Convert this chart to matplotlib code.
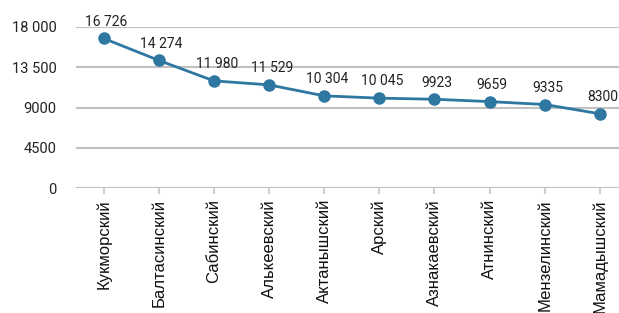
import matplotlib
matplotlib.use("Agg")
import matplotlib.pyplot as plt

districts = ["Кукморский", "Балтасинский", "Сабинский", "Алькеевский", "Актанышский",
             "Арский", "Азнакаевский", "Атнинский", "Мензелинский", "Мамадышский"]
values = [16726, 14274, 11980, 11529, 10304, 10045, 9923, 9659, 9335, 8300]
yticks = [0, 4500, 9000, 13500, 18000]


def fmt(v):
    # пробел как разделитель тысяч только для 5+ цифр
    s = str(int(v))
    if len(s) > 4:
        s = s[:-3] + " " + s[-3:]
    return s


color = "#2e77a1"
fig = plt.figure(figsize=(6.19, 3.13), dpi=100)
ax = fig.add_axes([76 / 619, 1 - 188 / 313, 1 - 76 / 619, (188 - 27) / 313])

x = list(range(len(districts)))
ax.plot(x, values, color=color, linewidth=2.0, marker="o", markersize=8, zorder=3)
for xi, v in zip(x, values):
    ax.annotate(fmt(v), (xi, v), xytext=(2, 7), textcoords="offset points",
                ha="center", va="bottom", fontsize=10, family="Roboto", color="#222222")

ax.set_ylim(0, 18000)
ax.set_xlim(-0.5, (619 - 103) / 55.2)
ax.set_yticks(yticks)
ax.set_yticklabels([fmt(t) for t in yticks], family="Roboto", fontsize=10.5, color="#222222")
ax.set_xticks(x)
ax.set_xticklabels(districts, rotation=90, family="Liberation Sans", fontsize=12, color="#111111")
ax.grid(axis="y", color="#c0c0c0", linewidth=1.5)
ax.set_axisbelow(True)
for s in ax.spines.values():
    s.set_visible(False)
ax.tick_params(axis="y", length=0, pad=14)
ax.tick_params(axis="x", length=4, color="#d0d0d0", width=1.5, pad=4)

fig.savefig("out.png", dpi=100)
